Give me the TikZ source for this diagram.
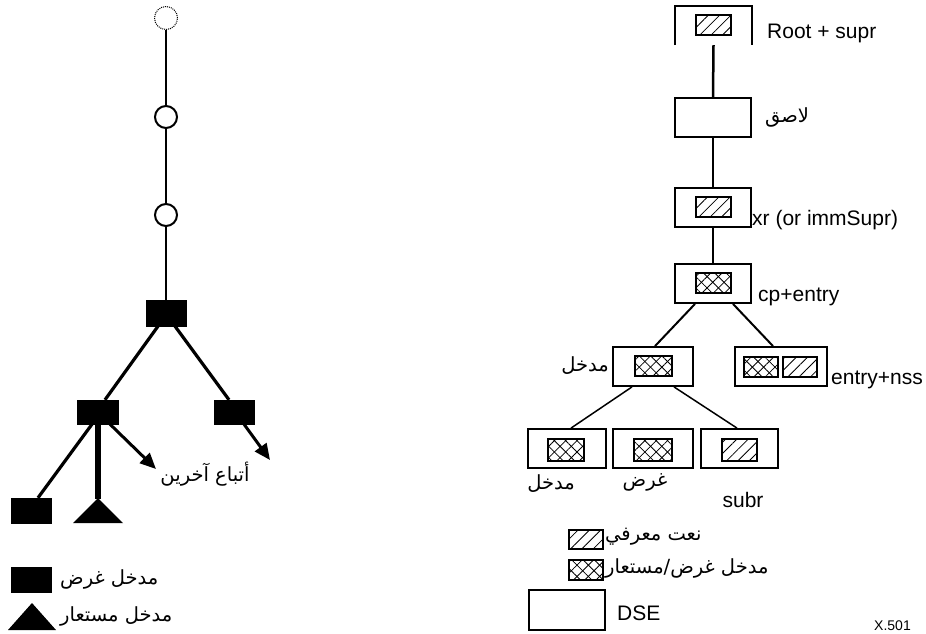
\documentclass[tikz,border=0pt]{standalone}
\usepackage{fontspec}
\setmainfont{Liberation Sans}
\newfontfamily\arabicfont[Script=Arabic]{DejaVu Sans}
\TeXXeTstate=1
\usetikzlibrary{arrows.meta,patterns.meta}

\tikzset{
  lat/.style={font=\fontsize{21}{24}\selectfont, inner sep=0pt},
  ara/.style={font=\arabicfont\fontsize{19.5}{22}\selectfont, inner sep=0pt},
  solid box/.style={fill=black, draw=black, inner sep=0pt},
  ring/.style={circle, draw, line width=2pt, minimum size=22pt, inner sep=0pt},
  faint ring/.style={circle, draw, line width=1pt, densely dotted, minimum size=23pt, inner sep=0pt},
  dse/.style={draw, line width=1.8pt, inner sep=0pt, minimum height=39pt},
  hatched/.style={draw, line width=2pt, inner sep=0pt, minimum width=35pt, minimum height=20pt,
    pattern={Lines[angle=45,distance=8pt,line width=0.8pt]}},
  crossed/.style={hatched,
    postaction={pattern={Lines[angle=-45,distance=8pt,line width=0.8pt]}}},
  trunk/.style={line width=2.5pt},
  branch/.style={line width=3.2pt},
  twig/.style={line width=1.5pt},
  pointer/.style={line width=3pt, -{Triangle[length=16pt,width=14pt]}},
}

\begin{document}
\begin{tikzpicture}[x=1pt,y=-1pt]
\useasboundingbox (0,0) rectangle (926,633);

% ---------- left tree ----------
\node[faint ring] (c1) at (166,18) {};
\node[ring] (c2) at (166,117) {};
\node[ring] (c3) at (166,215) {};
\node[solid box, minimum width=40pt, minimum height=26pt] (e1) at (166,313) {};
\node[solid box, minimum width=41pt, minimum height=24pt] (e2) at (98,412) {};
\node[solid box, minimum width=40pt, minimum height=24pt] (e3) at (234,412) {};
\node[solid box, minimum width=40pt, minimum height=25pt] (e4) at (31,510.5) {};
\fill (98,498) -- (123,523) -- (73,523) -- cycle;
\coordinate (t1) at (98,499);
\coordinate (e3end) at (270,460);
\coordinate (e2end) at (156,469);

\draw[trunk] (c1.south) -- (c2.north);
\draw[trunk] (c2.south) -- (c3.north);
\draw[trunk] (c3.south) -- (e1.north);
\draw[branch] ([xshift=-8pt]e1.south) -- ([xshift=7pt]e2.north);
\draw[branch] ([xshift=9pt]e1.south) -- ([xshift=-5pt]e3.north);
\draw[pointer] ([xshift=10pt]e3.south) -- (e3end);
\draw[branch] ([xshift=-6pt]e2.south) -- ([xshift=7pt]e4.north);
\draw[line width=5.5pt] (e2.south) -- (t1);
\draw[pointer] ([xshift=12pt]e2.south) -- (e2end);

\node[ara] (others) at (205,474) {\beginR أتباع آخرين\endR};

% legend, left
\node[solid box, minimum width=40pt, minimum height=25pt] (l1) at (31,579.5) {};
\node[ara, anchor=west] (l1t) at (60,579) {\beginR مدخل غرض\endR};
\fill (8,630) -- (56,630) -- (32,603) -- cycle;
\coordinate (l2) at (56,617);
\node[ara, anchor=west] (l2t) at (60,616) {\beginR مدخل مستعار\endR};

% ---------- right tree ----------
\node[inner sep=0pt, minimum width=77pt, minimum height=39pt] (r1) at (713.5,25.5) {};
\draw[line width=1.8pt] (r1.south west) -- (r1.north west) -- (r1.north east) -- (r1.south east);
\node[hatched] (r1h) at (713.5,25) {};
\node[lat, anchor=west] (r1t) at (767,33) {Root + supr};

\node[dse, minimum width=76pt] (r2) at (713,117.5) {};
\node[ara] (r2t) at (787,117) {\beginR لاصق\endR};

\node[dse, minimum width=76pt] (r3) at (713,207.5) {};
\node[hatched] (r3h) at (713.5,207) {};
\node[lat, anchor=west] (r3t) at (752,220) {xr (or immSupr)};

\node[dse, minimum width=76pt] (r4) at (713,283.5) {};
\node[crossed] (r4h) at (713.5,283) {};
\node[lat, anchor=west] (r4t) at (758,297) {cp+entry};

\node[dse, minimum width=80pt] (r5) at (653,366.5) {};
\node[crossed, minimum width=37pt] (r5h) at (653.5,366) {};
\node[ara, anchor=east] (r5t) at (609,366) {\beginR مدخل\endR};

\node[dse, minimum width=92pt] (r6) at (781,366.5) {};
\node[crossed, minimum width=34pt] (r6a) at (761,367) {};
\node[hatched, minimum width=34pt] (r6b) at (800,367) {};
\node[lat, anchor=west] (r6t) at (831,380) {entry+nss};

\node[dse, minimum width=78pt] (r7) at (567,448.5) {};
\node[crossed, minimum width=36pt, minimum height=22pt] (r7h) at (566,450) {};
\node[ara] (r7t) at (551,484) {\beginR مدخل\endR};

\node[dse, minimum width=80pt] (r8) at (653,448.5) {};
\node[crossed, minimum width=38pt, minimum height=22pt] (r8h) at (653,450) {};
\node[ara] (r8t) at (645,482) {\beginR غرض\endR};

\node[dse, minimum width=77pt] (r9) at (739.5,448.5) {};
\node[hatched, minimum height=22pt] (r9h) at (739.5,450) {};
\node[lat] (r9t) at (743,500) {subr};

\draw[trunk] (r1.south) -- (r2.north);
\draw[trunk] (r2.south) -- (r3.north);
\draw[trunk] (r3.south) -- (r4.north);
\draw[line width=2pt] ([xshift=-18pt]r4.south) -- ([xshift=2pt]r5.north);
\draw[line width=2pt] ([xshift=20pt]r4.south) -- ([xshift=-8pt]r6.north);
\draw[twig] ([xshift=-21pt]r5.south) -- ([xshift=4pt]r7.north);
\draw[twig] ([xshift=21pt]r5.south) -- ([xshift=-2.5pt]r9.north);

% legend, right
\node[hatched, minimum width=34pt, minimum height=19pt] (k1) at (586,539.5) {};
\node[ara, anchor=west] (k1t) at (605,537) {\beginR نعت معرفي\endR};
\node[crossed, minimum width=34pt] (k2) at (586,570) {};
\node[ara, anchor=west] (k2t) at (605,568) {\beginR مدخل غرض/مستعار\endR};
\node[dse, minimum width=76pt, minimum height=40pt] (k3) at (567,610) {};
\node[lat, anchor=west] (k3t) at (617,613) {DSE};

\node[font=\fontsize{14}{16}\selectfont, inner sep=0pt, anchor=base west] (ref) at (874,630) {X.501};
\end{tikzpicture}
\end{document}
